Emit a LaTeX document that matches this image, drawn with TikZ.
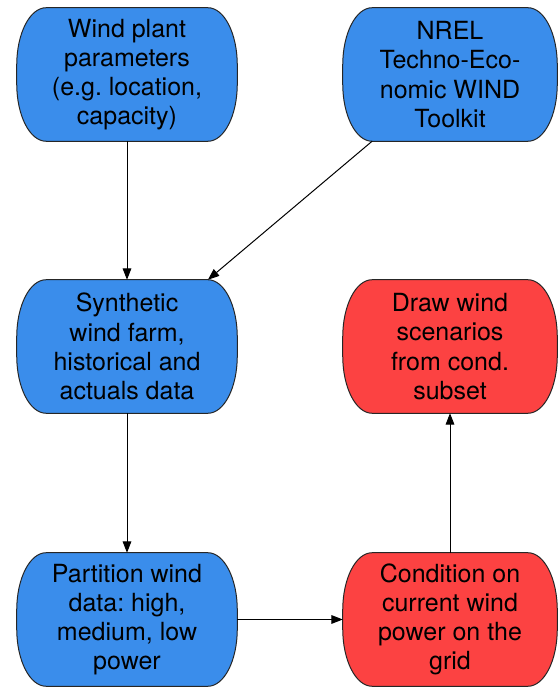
\documentclass[tikz,border=0pt]{standalone}
\usepackage{fontspec}
\setmainfont{TeX Gyre Heros}
\usetikzlibrary{calc,arrows.meta,backgrounds}
\definecolor{boxblue}{RGB}{58,141,235}
\definecolor{boxred}{RGB}{252,66,66}
\tikzset{
  pill/.style={draw=none, align=center, inner sep=0pt,
    font=\fontsize{18.75}{21.9}\selectfont, minimum height=99.75pt},
  leftcol/.style={pill, minimum width=165pt},
  rightcol/.style={pill, minimum width=160.5pt},
  conn/.style={line width=0.75pt, -{Triangle[length=8.5pt,width=6.5pt]}},
}
\newcommand\pillshape[2]{%
  \filldraw[fill=#2, draw=black!85, line width=0.75pt]
    ($(#1.north east)+(-22pt,0)$) arc[start angle=90, end angle=0, x radius=22pt, y radius=43pt]
    -- ($(#1.south east)+(0,43pt)$) arc[start angle=0, end angle=-90, x radius=22pt, y radius=43pt]
    -- ($(#1.south west)+(22pt,0)$) arc[start angle=-90, end angle=-180, x radius=22pt, y radius=43pt]
    -- ($(#1.north west)+(0,-43pt)$) arc[start angle=180, end angle=90, x radius=22pt, y radius=43pt]
    -- cycle;}
\begin{document}
\frenchspacing
\begin{tikzpicture}[x=0.75pt,y=0.75pt]
\useasboundingbox (0,0) rectangle (558,688);
\node[leftcol] (wp) at (127,613.5) {Wind plant\\parameters\\(e.g. location,\\capacity)};
\node[rightcol] (nrel) at (450,613.5) {NREL\\Techno-Eco-\\nomic WIND\\Toolkit};
\node[leftcol] (syn) at (127,341.5) {Synthetic\\wind farm,\\historical and\\actuals data};
\node[rightcol] (drw) at (450,341.5) {Draw wind\\scenarios\\from cond.\\subset};
\node[leftcol] (part) at (127,68.5) {Partition wind\\data: high,\\medium, low\\power};
\node[rightcol] (cond) at (450,68.5) {Condition on\\current wind\\power on the\\grid};
\begin{pgfonlayer}{background}
\pillshape{wp}{boxblue}
\pillshape{nrel}{boxblue}
\pillshape{syn}{boxblue}
\pillshape{part}{boxblue}
\pillshape{drw}{boxred}
\pillshape{cond}{boxred}
\end{pgfonlayer}
\coordinate (nrelc) at ($(nrel.south west)+(22pt,0)$);
\coordinate (sync) at ($(syn.north east)+(-22pt,0)$);
\draw[conn] (wp.south) -- (syn.north);
\draw[conn] (nrelc) -- (sync);
\draw[conn] (syn.south) -- (part.north);
\draw[conn] (part.east) -- (cond.west);
\draw[conn] (cond.north) -- (drw.south);
\end{tikzpicture}
\end{document}
